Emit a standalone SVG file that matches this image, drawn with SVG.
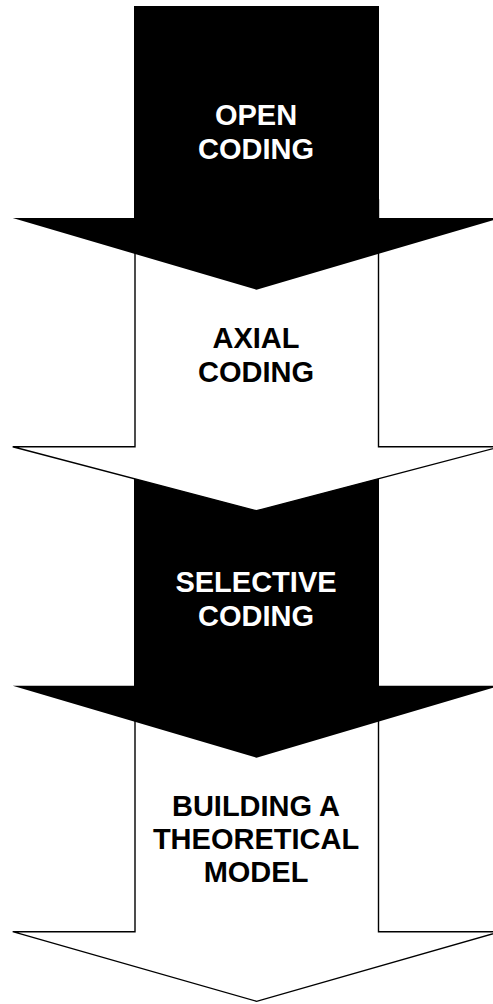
<svg xmlns="http://www.w3.org/2000/svg" width="493" height="1004" viewBox="0 0 493 1004">
<style>
.dark{fill:#000;stroke:none}
.light{fill:#fff;stroke:#000;stroke-width:1.4;stroke-linejoin:miter}
text{font-family:"Liberation Sans",Arial,sans-serif;font-weight:bold;font-size:29px;text-anchor:middle}
.wt{fill:#fff}
.bt{fill:#000}
</style>
<rect width="493" height="1004" fill="#fff"/>
<g id="arrow4">
<polygon class="light" points="135,700 378.5,700 378.5,931.7 500.3,931.7 256.6,1001.3 12.7,931.7 135,931.7"/>
<text class="bt" x="256" y="815.5">BUILDING A</text>
<text class="bt" x="256" y="848.5">THEORETICAL</text>
<text class="bt" x="256" y="881.5">MODEL</text>
</g>
<g id="arrow3">
<polygon class="dark" points="134,470 379,470 379,685.7 500.3,685.7 256.5,757.7 12.7,685.7 134,685.7"/>
<text class="wt" x="256" y="591.5">SELECTIVE</text>
<text class="wt" x="256" y="625.5">CODING</text>
</g>
<g id="arrow2">
<polygon class="light" points="135,200 378.5,200 378.5,446.7 500.3,446.7 256.5,510.8 12.7,446.7 135,446.7"/>
<text class="bt" x="256" y="348.3">AXIAL</text>
<text class="bt" x="256" y="381.5">CODING</text>
</g>
<g id="arrow1">
<polygon class="dark" points="134,6 379,6 379,218 500.3,218 256.5,289.7 12.7,218 134,218"/>
<text class="wt" x="256" y="125">OPEN</text>
<text class="wt" x="256" y="159">CODING</text>
</g>
<g id="connectors"/>
</svg>
